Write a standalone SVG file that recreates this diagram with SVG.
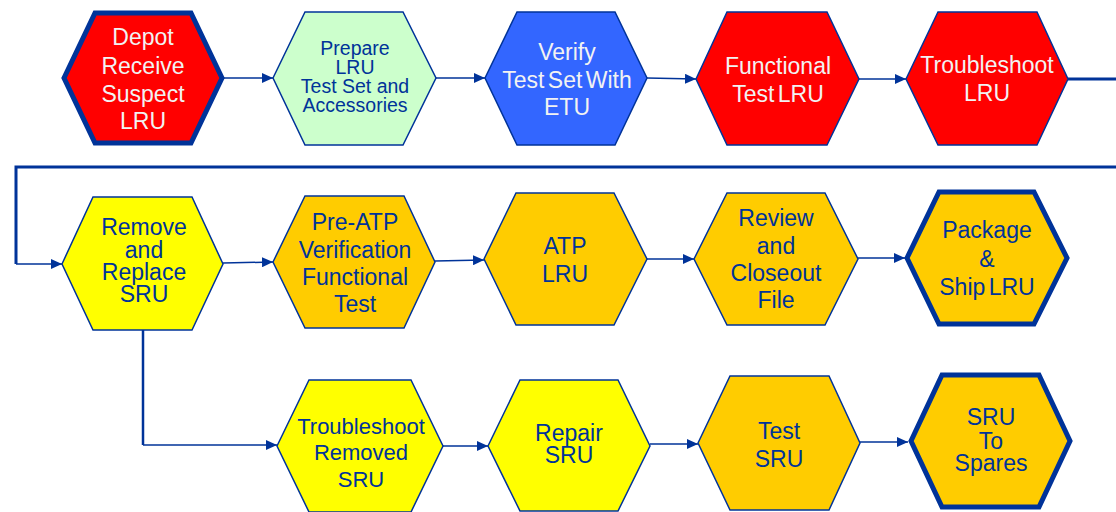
<svg xmlns="http://www.w3.org/2000/svg" width="1116" height="512" viewBox="0 0 1116 512">
<defs>
<marker id="ah" markerUnits="userSpaceOnUse" markerWidth="12" markerHeight="10" refX="11" refY="5" orient="auto">
<path d="M0,0 L11,5 L0,10 Z" fill="#003399"/>
</marker>
<style>
.hex{stroke:#003399;stroke-width:1.5;stroke-linejoin:miter}
.thick{stroke-width:5}
.red{fill:#FF0000}
.green{fill:#CCFFCC}
.blue{fill:#3366FF}
.yel{fill:#FFFF00}
.org{fill:#FFCC00}
text{font-family:"Liberation Sans",Arial,sans-serif;text-anchor:middle}
.tw{fill:#F2F2F2;font-size:23px}
.tb{fill:#003399;font-size:23px}
.ts{fill:#003399;font-size:19.5px}
.c{fill:none;stroke:#003399;stroke-width:1.5}
.cw{fill:none;stroke:#003399;stroke-width:3}
</style>
</defs>
<rect width="1116" height="512" fill="#FFFFFF"/>
<g id="connectors">
<line class="c" x1="222" y1="78" x2="273" y2="78" marker-end="url(#ah)"/>
<line class="c" x1="436" y1="78" x2="485" y2="78" marker-end="url(#ah)"/>
<line class="c" x1="647" y1="78" x2="696" y2="79" marker-end="url(#ah)"/>
<line class="c" x1="859" y1="79" x2="906" y2="79" marker-end="url(#ah)"/>
<polyline class="cw" points="1068,79 1116,79"/>
<polyline class="cw" points="1116,167 16,167 16,264"/>
<line class="c" x1="16" y1="264" x2="62" y2="264" marker-end="url(#ah)"/>
<line class="c" x1="223" y1="263" x2="273" y2="262" marker-end="url(#ah)"/>
<line class="c" x1="435" y1="261" x2="484" y2="260" marker-end="url(#ah)"/>
<line class="c" x1="647" y1="259" x2="694" y2="259" marker-end="url(#ah)"/>
<line class="c" x1="858" y1="258" x2="905" y2="258" marker-end="url(#ah)"/>
<polyline fill="none" stroke="#003399" stroke-width="2.5" points="143,330 143,445"/>
<line class="c" x1="143" y1="445" x2="277" y2="445" marker-end="url(#ah)"/>
<line class="c" x1="443" y1="446" x2="488" y2="446" marker-end="url(#ah)"/>
<line class="c" x1="650" y1="444" x2="698" y2="444" marker-end="url(#ah)"/>
<line class="c" x1="860" y1="442" x2="908" y2="442" marker-end="url(#ah)"/>
</g>
<g id="n1">
<polygon class="hex thick red" points="64,78 95,13 191,13 222,78 191,143 95,143"/>
<text class="tw" x="143" y="45">Depot</text>
<text class="tw" x="143" y="74">Receive</text>
<text class="tw" x="143" y="102">Suspect</text>
<text class="tw" x="143" y="129">LRU</text>
</g>
<g id="n2">
<polygon class="hex green" points="273,78 305,12 403,12 436,78 403,145 305,145"/>
<text class="ts" x="355" y="55">Prepare</text>
<text class="ts" x="355" y="74">LRU</text>
<text class="ts" x="355" y="93">Test Set and</text>
<text class="ts" x="355" y="112">Accessories</text>
</g>
<g id="n3">
<polygon class="hex blue" points="485,78 517,12 615,12 647,78 615,145 517,145"/>
<text class="tw" x="567" y="60">Verify</text>
<text class="tw" x="567" y="88" style="word-spacing:-3px">Test Set With</text>
<text class="tw" x="567" y="115">ETU</text>
</g>
<g id="n4">
<polygon class="hex red" points="696,79 727,12 827,12 859,79 827,145 727,145"/>
<text class="tw" x="778" y="74">Functional</text>
<text class="tw" x="778" y="102" style="word-spacing:-3px">Test LRU</text>
</g>
<g id="n5">
<polygon class="hex red" points="906,79 938,12 1037,12 1068,79 1037,145 938,145"/>
<text class="tw" x="987" y="73">Troubleshoot</text>
<text class="tw" x="987" y="101">LRU</text>
</g>
<g id="n6">
<polygon class="hex yel" points="62,264 93,197 192,197 223,264 192,330 93,330"/>
<text class="tb" x="144" y="235">Remove</text>
<text class="tb" x="144" y="258">and</text>
<text class="tb" x="144" y="280">Replace</text>
<text class="tb" x="144" y="302">SRU</text>
</g>
<g id="n7">
<polygon class="hex org" points="273,262 305,196 404,196 435,262 404,328 305,328"/>
<text class="tb" x="355" y="230">Pre-ATP</text>
<text class="tb" x="355" y="258">Verification</text>
<text class="tb" x="355" y="285">Functional</text>
<text class="tb" x="355" y="312">Test</text>
</g>
<g id="n8">
<polygon class="hex org" points="484,259 516,193 614,193 647,259 614,325 516,325"/>
<text class="tb" x="565" y="254">ATP</text>
<text class="tb" x="565" y="282">LRU</text>
</g>
<g id="n9">
<polygon class="hex org" points="694,259 727,193 825,193 858,259 825,325 727,325"/>
<text class="tb" x="776" y="226">Review</text>
<text class="tb" x="776" y="254">and</text>
<text class="tb" x="776" y="281">Closeout</text>
<text class="tb" x="776" y="308">File</text>
</g>
<g id="n10">
<polygon class="hex thick org" points="907,258 939,192 1034,192 1067,258 1034,324 939,324"/>
<text class="tb" x="987" y="238">Package</text>
<text class="tb" x="987" y="267">&amp;</text>
<text class="tb" x="987" y="295" style="word-spacing:-3px">Ship LRU</text>
</g>
<g id="n11">
<polygon class="hex yel" points="277,446 309,380 411,380 443,446 411,512 309,512"/>
<text class="tb" x="361" y="434" style="font-size:22px">Troubleshoot</text>
<text class="tb" x="361" y="460" style="font-size:22px">Removed</text>
<text class="tb" x="361" y="487" style="font-size:22px">SRU</text>
</g>
<g id="n12">
<polygon class="hex yel" points="488,446 520,380 618,380 650,446 618,511 520,511"/>
<text class="tb" x="569" y="441">Repair</text>
<text class="tb" x="569" y="463">SRU</text>
</g>
<g id="n13">
<polygon class="hex org" points="698,443 730,376 829,376 860,443 829,510 730,510"/>
<text class="tb" x="779" y="439">Test</text>
<text class="tb" x="779" y="467">SRU</text>
</g>
<g id="n14">
<polygon class="hex thick org" points="911,441 942,375 1039,375 1070,441 1039,507 942,507"/>
<text class="tb" x="991" y="425">SRU</text>
<text class="tb" x="991" y="449">To</text>
<text class="tb" x="991" y="471">Spares</text>
</g>
</svg>
